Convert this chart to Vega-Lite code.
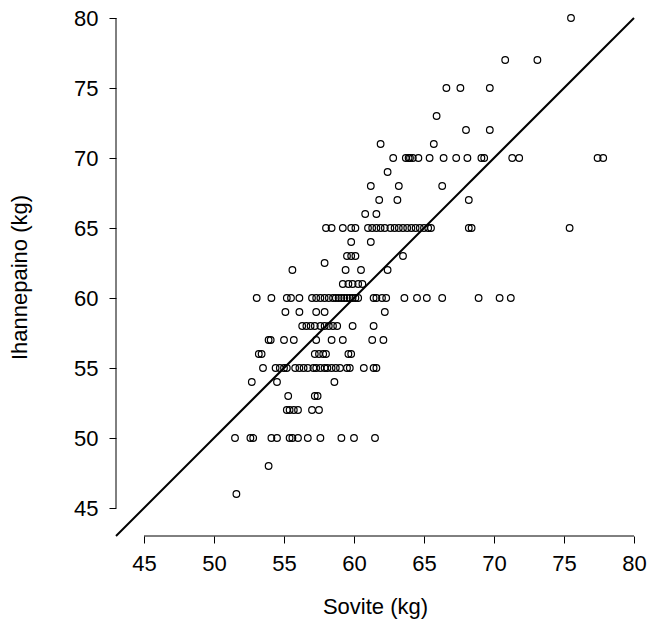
{
  "$schema": "https://vega.github.io/schema/vega-lite/v6.json",
  "width": 518,
  "height": 518,
  "autosize": {"type": "none"},
  "padding": {"left": 116, "top": 18, "right": 32, "bottom": 88},
  "background": "white",
  "config": {
    "view": {"stroke": null},
    "font": "Liberation Sans",
    "axis": {
      "domain": false,
      "grid": false,
      "ticks": true,
      "tickColor": "black",
      "tickSize": 7,
      "tickWidth": 1,
      "labelFont": "Liberation Sans",
      "labelFontSize": 22,
      "labelColor": "black",
      "titleFont": "Liberation Sans",
      "titleFontSize": 22,
      "titleFontWeight": "normal",
      "titleColor": "black"
    }
  },
  "datasets": {
    "painot": [
      {"sovite": 51.6, "ihanne": 46},
      {"sovite": 53.9, "ihanne": 48},
      {"sovite": 51.5, "ihanne": 50}, {"sovite": 52.6, "ihanne": 50}, {"sovite": 52.8, "ihanne": 50}, {"sovite": 54.1, "ihanne": 50}, {"sovite": 54.5, "ihanne": 50}, {"sovite": 55.4, "ihanne": 50}, {"sovite": 55.6, "ihanne": 50}, {"sovite": 56.0, "ihanne": 50}, {"sovite": 56.7, "ihanne": 50}, {"sovite": 57.6, "ihanne": 50}, {"sovite": 59.1, "ihanne": 50}, {"sovite": 60.0, "ihanne": 50}, {"sovite": 61.5, "ihanne": 50},
      {"sovite": 55.2, "ihanne": 52}, {"sovite": 55.4, "ihanne": 52}, {"sovite": 55.7, "ihanne": 52}, {"sovite": 56.0, "ihanne": 52}, {"sovite": 57.0, "ihanne": 52}, {"sovite": 57.5, "ihanne": 52},
      {"sovite": 55.3, "ihanne": 53}, {"sovite": 57.2, "ihanne": 53}, {"sovite": 57.4, "ihanne": 53},
      {"sovite": 52.7, "ihanne": 54}, {"sovite": 54.5, "ihanne": 54}, {"sovite": 58.6, "ihanne": 54},
      {"sovite": 53.5, "ihanne": 55}, {"sovite": 54.4, "ihanne": 55}, {"sovite": 54.7, "ihanne": 55}, {"sovite": 55.0, "ihanne": 55}, {"sovite": 55.2, "ihanne": 55}, {"sovite": 55.8, "ihanne": 55}, {"sovite": 56.1, "ihanne": 55}, {"sovite": 56.4, "ihanne": 55}, {"sovite": 56.7, "ihanne": 55}, {"sovite": 57.1, "ihanne": 55}, {"sovite": 57.3, "ihanne": 55}, {"sovite": 57.6, "ihanne": 55}, {"sovite": 57.9, "ihanne": 55}, {"sovite": 58.1, "ihanne": 55}, {"sovite": 58.4, "ihanne": 55}, {"sovite": 58.7, "ihanne": 55}, {"sovite": 59.0, "ihanne": 55}, {"sovite": 59.5, "ihanne": 55}, {"sovite": 59.7, "ihanne": 55}, {"sovite": 60.7, "ihanne": 55}, {"sovite": 61.4, "ihanne": 55}, {"sovite": 61.6, "ihanne": 55},
      {"sovite": 53.2, "ihanne": 56}, {"sovite": 53.4, "ihanne": 56}, {"sovite": 57.2, "ihanne": 56}, {"sovite": 57.5, "ihanne": 56}, {"sovite": 57.8, "ihanne": 56}, {"sovite": 58.0, "ihanne": 56}, {"sovite": 59.6, "ihanne": 56}, {"sovite": 59.8, "ihanne": 56},
      {"sovite": 53.9, "ihanne": 57}, {"sovite": 54.05, "ihanne": 57}, {"sovite": 55.0, "ihanne": 57}, {"sovite": 55.7, "ihanne": 57}, {"sovite": 57.3, "ihanne": 57}, {"sovite": 58.4, "ihanne": 57}, {"sovite": 59.2, "ihanne": 57}, {"sovite": 61.3, "ihanne": 57}, {"sovite": 62.1, "ihanne": 57},
      {"sovite": 56.3, "ihanne": 58}, {"sovite": 56.6, "ihanne": 58}, {"sovite": 56.9, "ihanne": 58}, {"sovite": 57.2, "ihanne": 58}, {"sovite": 57.6, "ihanne": 58}, {"sovite": 57.9, "ihanne": 58}, {"sovite": 58.2, "ihanne": 58}, {"sovite": 58.5, "ihanne": 58}, {"sovite": 58.8, "ihanne": 58}, {"sovite": 59.9, "ihanne": 58}, {"sovite": 61.4, "ihanne": 58},
      {"sovite": 55.1, "ihanne": 59}, {"sovite": 56.1, "ihanne": 59}, {"sovite": 57.3, "ihanne": 59}, {"sovite": 57.9, "ihanne": 59}, {"sovite": 62.2, "ihanne": 59},
      {"sovite": 53.05, "ihanne": 60}, {"sovite": 54.1, "ihanne": 60}, {"sovite": 55.2, "ihanne": 60}, {"sovite": 55.5, "ihanne": 60}, {"sovite": 56.1, "ihanne": 60}, {"sovite": 57.0, "ihanne": 60}, {"sovite": 57.3, "ihanne": 60}, {"sovite": 57.6, "ihanne": 60}, {"sovite": 57.9, "ihanne": 60}, {"sovite": 58.2, "ihanne": 60}, {"sovite": 58.5, "ihanne": 60}, {"sovite": 58.7, "ihanne": 60}, {"sovite": 58.9, "ihanne": 60}, {"sovite": 59.1, "ihanne": 60}, {"sovite": 59.3, "ihanne": 60}, {"sovite": 59.5, "ihanne": 60}, {"sovite": 59.7, "ihanne": 60}, {"sovite": 59.9, "ihanne": 60}, {"sovite": 60.1, "ihanne": 60}, {"sovite": 60.3, "ihanne": 60}, {"sovite": 61.4, "ihanne": 60}, {"sovite": 61.6, "ihanne": 60}, {"sovite": 62.0, "ihanne": 60}, {"sovite": 62.3, "ihanne": 60}, {"sovite": 63.6, "ihanne": 60}, {"sovite": 64.5, "ihanne": 60}, {"sovite": 65.2, "ihanne": 60}, {"sovite": 66.3, "ihanne": 60}, {"sovite": 68.9, "ihanne": 60}, {"sovite": 70.4, "ihanne": 60}, {"sovite": 71.2, "ihanne": 60},
      {"sovite": 59.2, "ihanne": 61}, {"sovite": 59.6, "ihanne": 61}, {"sovite": 59.9, "ihanne": 61}, {"sovite": 60.3, "ihanne": 61}, {"sovite": 60.6, "ihanne": 61},
      {"sovite": 55.6, "ihanne": 62}, {"sovite": 59.4, "ihanne": 62}, {"sovite": 60.5, "ihanne": 62}, {"sovite": 62.4, "ihanne": 62},
      {"sovite": 57.9, "ihanne": 62.5},
      {"sovite": 59.5, "ihanne": 63}, {"sovite": 59.8, "ihanne": 63}, {"sovite": 60.1, "ihanne": 63}, {"sovite": 63.5, "ihanne": 63},
      {"sovite": 59.8, "ihanne": 64}, {"sovite": 61.2, "ihanne": 64},
      {"sovite": 58.0, "ihanne": 65}, {"sovite": 58.4, "ihanne": 65}, {"sovite": 59.2, "ihanne": 65}, {"sovite": 59.8, "ihanne": 65}, {"sovite": 60.1, "ihanne": 65}, {"sovite": 61.0, "ihanne": 65}, {"sovite": 61.3, "ihanne": 65}, {"sovite": 61.6, "ihanne": 65}, {"sovite": 61.9, "ihanne": 65}, {"sovite": 62.2, "ihanne": 65}, {"sovite": 62.6, "ihanne": 65}, {"sovite": 62.9, "ihanne": 65}, {"sovite": 63.2, "ihanne": 65}, {"sovite": 63.5, "ihanne": 65}, {"sovite": 63.8, "ihanne": 65}, {"sovite": 64.1, "ihanne": 65}, {"sovite": 64.4, "ihanne": 65}, {"sovite": 64.7, "ihanne": 65}, {"sovite": 65.0, "ihanne": 65}, {"sovite": 65.3, "ihanne": 65}, {"sovite": 65.5, "ihanne": 65}, {"sovite": 68.2, "ihanne": 65}, {"sovite": 68.4, "ihanne": 65}, {"sovite": 75.4, "ihanne": 65},
      {"sovite": 60.8, "ihanne": 66}, {"sovite": 61.6, "ihanne": 66},
      {"sovite": 61.8, "ihanne": 67}, {"sovite": 63.1, "ihanne": 67}, {"sovite": 68.2, "ihanne": 67},
      {"sovite": 61.2, "ihanne": 68}, {"sovite": 63.2, "ihanne": 68}, {"sovite": 66.3, "ihanne": 68},
      {"sovite": 62.4, "ihanne": 69},
      {"sovite": 62.8, "ihanne": 70}, {"sovite": 63.7, "ihanne": 70}, {"sovite": 63.9, "ihanne": 70}, {"sovite": 64.0, "ihanne": 70}, {"sovite": 64.2, "ihanne": 70}, {"sovite": 64.6, "ihanne": 70}, {"sovite": 65.4, "ihanne": 70}, {"sovite": 66.4, "ihanne": 70}, {"sovite": 67.3, "ihanne": 70}, {"sovite": 68.1, "ihanne": 70}, {"sovite": 69.1, "ihanne": 70}, {"sovite": 69.3, "ihanne": 70}, {"sovite": 71.3, "ihanne": 70}, {"sovite": 71.8, "ihanne": 70}, {"sovite": 77.4, "ihanne": 70}, {"sovite": 77.8, "ihanne": 70},
      {"sovite": 61.9, "ihanne": 71}, {"sovite": 65.7, "ihanne": 71},
      {"sovite": 68.0, "ihanne": 72}, {"sovite": 69.7, "ihanne": 72},
      {"sovite": 65.9, "ihanne": 73},
      {"sovite": 66.6, "ihanne": 75}, {"sovite": 67.6, "ihanne": 75}, {"sovite": 69.7, "ihanne": 75},
      {"sovite": 70.8, "ihanne": 77}, {"sovite": 73.1, "ihanne": 77},
      {"sovite": 75.5, "ihanne": 80}
    ]
  },
  "layer": [
    {
      "data": {"name": "painot"},
      "mark": {"type": "point", "shape": "circle", "filled": false, "color": "black", "strokeWidth": 1.2, "size": 44, "opacity": 1},
      "encoding": {
        "x": {
          "field": "sovite", "type": "quantitative", "title": "Sovite (kg)",
          "scale": {"domain": [43, 80], "nice": false, "zero": false},
          "axis": {"values": [45, 50, 55, 60, 65, 70, 75, 80], "labelPadding": 10, "titlePadding": 22, "labelFlush": false}
        },
        "y": {
          "field": "ihanne", "type": "quantitative", "title": "Ihannepaino (kg)",
          "scale": {"domain": [43, 80], "nice": false, "zero": false},
          "axis": {"values": [45, 50, 55, 60, 65, 70, 75, 80], "labelPadding": 11, "titlePadding": 42, "labelFlush": false}
        }
      }
    },
    {
      "data": {"values": [{}]},
      "mark": {"type": "rule", "color": "black", "strokeWidth": 2},
      "encoding": {
        "x": {"datum": 43, "type": "quantitative"},
        "y": {"datum": 43, "type": "quantitative"},
        "x2": {"datum": 80},
        "y2": {"datum": 80}
      }
    },
    {
      "data": {"values": [{}]},
      "mark": {"type": "rule", "color": "black", "strokeWidth": 1},
      "encoding": {
        "x": {"datum": 45, "type": "quantitative"},
        "x2": {"datum": 80},
        "y": {"datum": 43, "type": "quantitative"}
      }
    },
    {
      "data": {"values": [{}]},
      "mark": {"type": "rule", "color": "black", "strokeWidth": 1},
      "encoding": {
        "x": {"datum": 43, "type": "quantitative"},
        "y": {"datum": 45, "type": "quantitative"},
        "y2": {"datum": 80}
      }
    }
  ]
}
